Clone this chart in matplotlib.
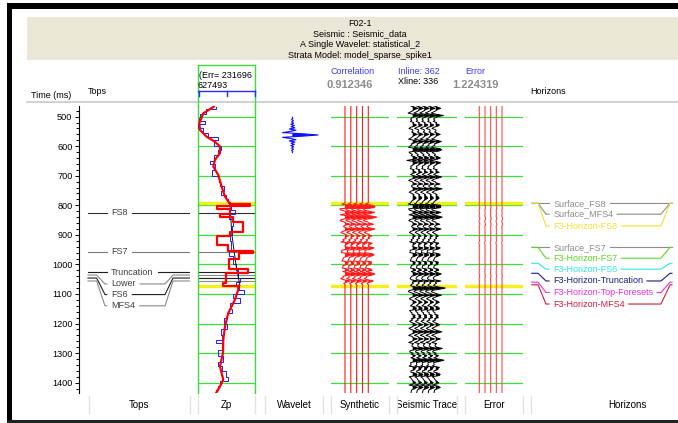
import numpy as np
import matplotlib
matplotlib.use("Agg")
import matplotlib.pyplot as plt
from matplotlib.lines import Line2D
from matplotlib.patches import Rectangle

plt.rcParams['font.family'] = ['Liberation Sans', 'DejaVu Sans']

W, H = 678, 423
T_TOP, T_BOT = 464, 1435
GRID_TIMES = [500, 600, 700, 800, 900, 1000, 1100, 1200, 1300, 1400]
WINDOW = [793, 1072]

GREEN = '#3ddc3d'
YELLOW = '#f5ef1a'

# well tops
top_names = ["FS8", "FS7", "Truncation", "Lower", "FS6", "MFS4"]
top_times = [825, 957, 1026, 1036, 1046, 1056]
top_label_times = [825, 957, 1026, 1066, 1102, 1140]
top_colors = ["#303030", "#7a7a7a", "#202020", "#8a8a8a", "#202020", "#8a8a8a"]

# horizons
hor_names = ["Surface_FS8", "Surface_MFS4", "F3-Horizon-FS8", "Surface_FS7",
             "F3-Horizon-FS7", "F3-Horizon-FS6", "F3-Horizon-Truncation",
             "F3-Horizon-Top-Foresets", "F3-Horizon-MFS4"]
hor_times = [793, 793, 793, 942, 942, 996, 1030, 1060, 1069]
hor_label_times = [793, 830, 870, 942, 979, 1016, 1056, 1095, 1134]
hor_colors = ["#8c8c8c", "#8c8c8c", "#f0e030", "#8c8c8c", "#5fd62a",
              "#2ee6e6", "#1c1c80", "#e632d8", "#c8203c"]

# Zp well log (blue, blocky)
log_t = [466, 475, 490, 505, 515, 525, 540, 555, 570, 580, 600, 612, 630, 650,
         660, 680, 700, 720, 735, 750, 765, 780, 793, 800, 815, 830, 845, 870,
         900, 920, 950, 970, 1000, 1020, 1045, 1060, 1072, 1085, 1100, 1115,
         1130, 1150, 1165, 1180, 1200, 1220, 1240, 1255, 1265, 1290, 1310,
         1330, 1345, 1360, 1380, 1395, 1410, 1425, 1436]
log_zp = [7890, 6840, 6210, 6105, 6735, 6000, 6525, 7050, 8100, 7680, 8415,
          8100, 7680, 7260, 7785, 7470, 8205, 8310, 8730, 8415, 8940, 9150,
          9675, 9465, 9885, 9255, 9675, 9570, 9360, 9465, 9255, 9675, 9990,
          10200, 10410, 9990, 10305, 10830, 9675, 10410, 9360, 9570, 9045,
          8730, 9045, 8415, 8520, 7900, 8520, 8100, 8625, 8100, 8520, 8940,
          9150, 8310, 8100, 7890, 7890]

# Zp model (red): smooth above, blocky inversion in window, smooth below
mod_top_t = [466, 489, 522, 545, 568, 585, 601, 624, 646, 669, 697, 737, 770, 787, 793]
mod_top_zp = [7680, 6560, 6140, 6210, 6910, 7790, 8310, 8310, 7790, 7610,
              8130, 8490, 8840, 9180, 9360]
mod_win_t = [793, 796, 801, 812, 828, 840, 858, 890, 904, 934, 955, 960, 980,
             1016, 1028, 1062, 1072]
mod_win_zp = [9360, 11460, 7990, 9360, 8310, 9670, 10720, 9360, 7990, 9150,
              11780, 10290, 9250, 11250, 8940, 8630, 10230]
mod_bot_t = [1072, 1086, 1120, 1165, 1210, 1255, 1300, 1345, 1390, 1413, 1436]
mod_bot_zp = [10230, 10230, 9880, 9180, 8840, 8660, 8630, 8310, 8660, 8310, 7890]

# low frequency model (black) in window
lf_t = [797, 900, 1000, 1072]
lf_zp = [9360, 9570, 9990, 10410]

# wavelet
wav_center = 562
wav_lag = np.arange(-60, 61, 4)
wav_amp = [0.0, 0.02, -0.03, 0.04, -0.03, 0.05, -0.06, 0.08, -0.05, 0.1,
           -0.12, 0.14, -0.08, -0.38, 0.4, 1.0, 0.4, -0.38, -0.08, 0.14,
           -0.12, 0.1, -0.05, 0.08, -0.06, 0.05, -0.03, 0.04, -0.03, 0.02, 0.0]

# reflection events read from the seismic track
ev_t = [472, 486, 498, 512, 526, 540, 562, 574, 584, 598, 613, 626, 641, 650,
        658, 672, 688, 703, 716, 728, 742, 756, 766, 776, 790, 804, 818, 826,
        838, 852, 864, 878, 892, 906, 920, 932, 945, 956, 968, 982, 996, 1008,
        1020, 1032, 1046, 1058, 1080, 1092, 1103, 1116, 1130, 1148, 1162,
        1176, 1190, 1204, 1216, 1227, 1240, 1252, 1266, 1283, 1296, 1310,
        1325, 1340, 1352, 1373, 1386, 1398, 1418, 1430]
ev_amp = [0.8, -0.5, 1.0, -0.4, 0.5, -0.5, 0.7, -0.4, 0.8, -0.5, 1.0, -0.4,
          0.7, -0.3, 0.7, -0.5, 0.4, 0.8, -0.5, 0.4, 0.8, -0.4, 0.4, 0.7,
          -0.5, 1.0, -0.4, 0.6, 1.0, -0.5, 0.4, 0.7, -0.4, 0.3, -0.3, 0.4,
          0.7, -0.4, 0.8, -0.4, 0.4, -0.3, 0.5, 1.0, -0.5, 0.4, 1.4, -0.5,
          0.7, -0.4, 0.5, 0.7, -0.4, 0.5, -0.4, 0.5, -0.4, 0.8, -0.4, 0.5,
          -0.4, 0.9, -0.4, 0.4, 1.4, -0.5, 0.5, 0.8, -0.4, 0.5, 0.8, -0.4]

# misfit events (error track)
err_t = [808, 845, 866, 930, 1005, 1040]
err_amp = [0.25, 0.35, 0.3, -0.25, 0.15, 0.2]


def box(x0, y0, x1, y1):
    return [x0 / W, 1 - y1 / H, (x1 - x0) / W, (y1 - y0) / H]


def ftext(x, y, s, **kw):
    kw.setdefault('fontsize', 6.5)
    kw.setdefault('va', 'center')
    fig.text(x / W, 1 - y / H, s, **kw)


def fline(xs, ys, **kw):
    fig.add_artist(Line2D([x / W for x in xs], [1 - y / H for y in ys],
                          transform=fig.transFigure, **kw))


def frect(x0, y0, x1, y1, color):
    fig.add_artist(Rectangle((x0 / W, 1 - y1 / H), (x1 - x0) / W, (y1 - y0) / H,
                             transform=fig.transFigure, facecolor=color,
                             edgecolor='none'))


def track(x0, x1, xlim=(0, 1)):
    ax = fig.add_axes(box(x0, 106, x1, 393))
    ax.set_ylim(T_BOT, T_TOP)
    ax.set_xlim(*xlim)
    ax.set_xticks([])
    ax.set_yticks([])
    for s in ax.spines.values():
        s.set_visible(False)
    ax.patch.set_alpha(0)
    return ax


def grid_and_window(ax):
    for t in GRID_TIMES:
        ax.axhline(t, color=GREEN, lw=0.9, zorder=1)
    for t in WINDOW:
        ax.axhline(t, color=YELLOW, lw=2.4, zorder=1.5)


def wiggle(ax, t, tr, color, gain, lw=0.6):
    for k in range(1, 6):
        x = k + gain * tr
        ax.plot(x, t, color=color, lw=lw, zorder=3)
        ax.fill_betweenx(t, k, x, where=tr > 0, color=color, lw=0,
                         interpolate=True, zorder=3)


def marker_lines(ax, times, label_times, colors, names, xs, text_x, tcolors, gap):
    # label leaves a small gap in its line on both sides
    renderer = fig.canvas.get_renderer()
    inv = ax.transData.inverted()
    for t, lt, c, n, tc in zip(times, label_times, colors, names, tcolors):
        txt = ax.text(text_x, lt, n, fontsize=6.5, color=tc, va='center', ha='left')
        bb = txt.get_window_extent(renderer)
        x_end = inv.transform((bb.x1, bb.y0))[0]
        ax.plot([xs[0], xs[1], xs[2], text_x - gap], [t, t, lt, lt], color=c, lw=0.8)
        ax.plot([x_end + gap, xs[3], xs[4], xs[5]], [lt, lt, t, t], color=c, lw=0.8)


fig = plt.figure(figsize=(W / 100, H / 100), dpi=100)

# window frame and header band
frect(7, 3, 678, 9, '#000000')
frect(7, 3, 12, 423, '#000000')
frect(7, 420, 678, 423, '#222222')
frect(27, 17, 678, 60, '#ebe7d7')
fline([27, 678], [102, 102], color='#c8c8c8', lw=1.2)

ftext(360, 23, "F02-1", ha='center')
ftext(360, 34, "Seismic : Seismic_data", ha='center')
ftext(360, 44.5, "A Single Wavelet: statistical_2", ha='center')
ftext(360, 55, "Strata Model: model_sparse_spike1", ha='center')

ftext(31, 95, "Time (ms)", ha='left')
ftext(88, 92, "Tops", ha='left')
ftext(353, 71, "Correlation", ha='center', color='#3a3aff')
ftext(350, 85, "0.912346", ha='center', color='#8c8c8c', fontsize=8, weight='bold')
ftext(419, 71, "Inline: 362", ha='center', color='#3a3aff')
ftext(398, 81, "Xline: 336", ha='left')
ftext(475, 71, "Error", ha='center', color='#3a3aff')
ftext(475, 85, "1.224319", ha='center', color='#8c8c8c', fontsize=8, weight='bold')
ftext(530, 92, "Horizons", ha='left')

# Zp header box
fline([198, 255], [65, 65], color=GREEN, lw=1)
fline([198, 198], [65, 106], color=GREEN, lw=1)
fline([255, 255], [65, 106], color=GREEN, lw=1)
ftext(199, 76, "(Err= 231696", ha='left')
ftext(198, 86, "627493", ha='left')
fline([198, 255], [91, 91], color='#2a2aff', lw=1)
for xt in [198.5, 226.5, 254.5]:
    fline([xt, xt], [91, 96], color='#2a2aff', lw=1)

# bottom label row, text clipped to its cell
cells = [(88.6, 190, "Tops"), (197.6, 255, "Zp"), (264.6, 323.4, "Wavelet"),
         (330.7, 389, "Synthetic"), (397, 457, "Seismic Trace"),
         (464.8, 523, "Error"), (531, 723, "Horizons")]
for x0, x1, lab in cells:
    fline([x0, x0], [396, 413], color='#e2e2e2', lw=1)
    if x1 < 678:
        fline([x1, x1], [396, 413], color='#e2e2e2', lw=1)
    cax = fig.add_axes(box(x0, 396, min(x1, 678), 413))
    cax.axis('off')
    cax.set_xlim(x0, min(x1, 678))
    cax.set_ylim(0, 1)
    cax.text((x0 + x1) / 2, 0.5, lab, fontsize=7, ha='center', va='center',
             clip_on=True)

# tops track with time axis
ax_tops = fig.add_axes(box(79, 106, 190, 393))
ax_tops.set_ylim(T_BOT, T_TOP)
ax_tops.set_xlim(0, 1)
for s in ['top', 'right', 'bottom']:
    ax_tops.spines[s].set_visible(False)
ax_tops.spines['left'].set_linewidth(0.8)
ax_tops.set_xticks([])
ax_tops.set_yticks(GRID_TIMES)
ax_tops.set_yticks(range(480, 1436, 20), minor=True)
ax_tops.tick_params(axis='y', which='major', length=3.2, width=0.7,
                    labelsize=6.6, pad=1.5)
ax_tops.tick_params(axis='y', which='minor', length=2, width=0.7)
ax_tops.patch.set_alpha(0)
marker_lines(ax_tops, top_times, top_label_times, top_colors, top_names,
             [0.081, 0.159, 0.234, 0.775, 0.847, 1.0], 0.29,
             ['#404040'] * len(top_names), 0.04)

# Zp track
ax_zp = track(198, 255, (6000, 12000))
for s in ['left', 'right']:
    ax_zp.spines[s].set_visible(True)
    ax_zp.spines[s].set_color(GREEN)
    ax_zp.spines[s].set_linewidth(1)
grid_and_window(ax_zp)
for t, c in zip(top_times, top_colors):
    ax_zp.axhline(t, color=c, lw=0.8, zorder=2)
ax_zp.plot(log_zp, log_t, color='#1f1fff', lw=0.7, drawstyle='steps-pre', zorder=3)
ax_zp.plot(lf_zp, lf_t, color='#111111', lw=0.7, zorder=3)
ax_zp.plot(mod_top_zp, mod_top_t, color='#ff0000', lw=1.6, zorder=4)
ax_zp.plot(mod_win_zp, mod_win_t, color='#ff0000', lw=1.6, drawstyle='steps-pre', zorder=4)
ax_zp.plot(mod_bot_zp, mod_bot_t, color='#ff0000', lw=1.6, zorder=4)

# wavelet track
ax_w = track(264.6, 323.4, (-1.08, 1.21))
wt = wav_center + wav_lag
wa = np.array(wav_amp)
ax_w.plot(wa, wt, color='#1010ff', lw=0.8)
ax_w.fill_betweenx(wt, 0, wa, where=wa > 0, color='#1010ff', lw=0, interpolate=True)

# traces
trace_t = np.arange(464, 1437, 4)
refl = np.zeros(len(trace_t))
for t, a in zip(ev_t, ev_amp):
    refl[int(round((t - 464) / 4))] += a
err_refl = np.zeros(len(trace_t))
for t, a in zip(err_t, err_amp):
    err_refl[int(round((t - 464) / 4))] += a
in_win = (trace_t >= WINDOW[0]) & (trace_t <= WINDOW[1])
seismic = np.convolve(refl, wa, mode='same')
synthetic = np.where(in_win, np.convolve(refl * in_win, wa, mode='same'), 0)
error = np.where(in_win, np.convolve(err_refl, wa, mode='same'), 0)

ax_syn = track(330.7, 389, (-1.45, 8.55))
grid_and_window(ax_syn)
wiggle(ax_syn, trace_t, synthetic, '#ff1a1a', 1.3, lw=0.8)

ax_seis = track(397, 457, (-1.73, 8.7))
grid_and_window(ax_seis)
wiggle(ax_seis, trace_t, seismic, '#000000', 1.05, lw=0.7)

ax_err = track(464.8, 523, (-1.56, 8.7))
grid_and_window(ax_err)
wiggle(ax_err, trace_t, error, '#ff4a4a', 0.3, lw=0.8)

# horizons track
ax_h = track(531, 678)
marker_lines(ax_h, hor_times, hor_label_times, hor_colors, hor_names,
             [0.005, 0.048, 0.102, 0.884, 0.946, 0.959], 0.15, hor_colors, 0.027)

fig.savefig("out.png", dpi=100)
